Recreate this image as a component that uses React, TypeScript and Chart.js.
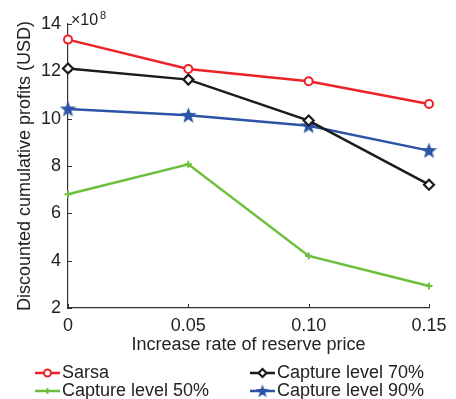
import React, { useEffect, useRef } from "react";
import { Chart, registerables } from "chart.js";
import { drawPoint } from "chart.js/helpers";

Chart.register(...registerables);

const rates = [0, 0.05, 0.1, 0.15];
const xTickLabels = ["0", "0.05", "0.10", "0.15"];
const sarsa = [13.34, 12.1, 11.58, 10.62];
const capture70 = [12.12, 11.65, 9.92, 7.21];
const capture50 = [6.81, 8.07, 4.2, 2.93];
const capture90 = [10.41, 10.14, 9.7, 8.65];
const seriesNames = ["Sarsa", "Capture level 70%", "Capture level 50%", "Capture level 90%"];

const RED = "#ec2227";
const BLACK = "#1b1b1b";
const GREEN = "#6cbf3c";
const BLUE = "#2b54a6";
const FONT = "'Liberation Sans', Arial, sans-serif";

function makeStar(color: string, size: number): HTMLCanvasElement {
  const c = document.createElement("canvas");
  c.width = size;
  c.height = size;
  const ctx = c.getContext("2d")!;
  const cx = size / 2;
  const cy = size / 2 + 0.5;
  const outer = size / 2;
  const inner = outer * 0.42;
  ctx.beginPath();
  for (let i = 0; i < 10; i++) {
    const r = i % 2 === 0 ? outer : inner;
    const a = -Math.PI / 2 + (i * Math.PI) / 5;
    const px = cx + r * Math.cos(a);
    const py = cy + r * Math.sin(a);
    if (i === 0) ctx.moveTo(px, py);
    else ctx.lineTo(px, py);
  }
  ctx.closePath();
  ctx.fillStyle = color;
  ctx.fill();
  return c;
}

export default function App() {
  const ref = useRef<HTMLCanvasElement | null>(null);

  useEffect(() => {
    document.body.style.margin = "0";
    const canvas = ref.current!;
    const star = makeStar(BLUE, 17);
    const smallStar = makeStar(BLUE, 14);
    const toPts = (vals: number[]) => rates.map((r, i) => ({ x: r, y: vals[i] }));

    const datasets: any[] = [
      {
        label: seriesNames[0],
        data: toPts(sarsa),
        borderColor: RED,
        backgroundColor: "#ffffff",
        pointBorderColor: RED,
        pointBackgroundColor: "#ffffff",
        pointStyle: "circle",
        pointRadius: 4,
        pointBorderWidth: 2,
        borderWidth: 2.5,
        clip: false,
        legendRadius: 3.5,
      },
      {
        label: seriesNames[1],
        data: toPts(capture70),
        borderColor: BLACK,
        pointBorderColor: BLACK,
        pointBackgroundColor: "#ffffff",
        pointStyle: "rectRot",
        pointRadius: 5,
        pointBorderWidth: 2.2,
        borderWidth: 2.5,
        clip: false,
        legendRadius: 4,
      },
      {
        label: seriesNames[2],
        data: toPts(capture50),
        borderColor: GREEN,
        pointBorderColor: GREEN,
        pointBackgroundColor: GREEN,
        pointStyle: "cross",
        pointRadius: 3.5,
        pointBorderWidth: 2,
        borderWidth: 2.5,
        clip: false,
        legendRadius: 3,
      },
      {
        label: seriesNames[3],
        data: toPts(capture90),
        borderColor: BLUE,
        pointBorderColor: BLUE,
        pointBackgroundColor: BLUE,
        pointStyle: star,
        pointRadius: 8,
        pointBorderWidth: 1,
        borderWidth: 2.5,
        clip: false,
        legendStyle: smallStar,
        legendRadius: 7,
      },
    ];

    const extras = {
      id: "extras",
      afterDraw(chart: any) {
        const ctx = chart.ctx as CanvasRenderingContext2D;
        const xs = chart.scales.x;
        const ys = chart.scales.y;
        const area = chart.chartArea;
        ctx.save();
        // inward ticks
        ctx.strokeStyle = "#333333";
        ctx.lineWidth = 1;
        ctx.beginPath();
        rates.forEach((r) => {
          const px = Math.round(xs.getPixelForValue(r)) + 0.5;
          ctx.moveTo(px, area.bottom);
          ctx.lineTo(px, area.bottom - 4);
        });
        ys.ticks.forEach((t: any) => {
          const py = Math.round(ys.getPixelForValue(t.value)) + 0.5;
          ctx.moveTo(area.left, py);
          ctx.lineTo(area.left + 4, py);
        });
        ctx.stroke();

        // exponent label
        ctx.fillStyle = "#222222";
        ctx.textBaseline = "alphabetic";
        ctx.textAlign = "left";
        ctx.font = `16px ${FONT}`;
        ctx.fillText("×10", 71, 25);
        ctx.font = `11px ${FONT}`;
        ctx.fillText("8", 100, 19);

        // legend
        const items = [
          { ds: 0, x: 35, y: 373 },
          { ds: 1, x: 250, y: 373 },
          { ds: 2, x: 35, y: 391 },
          { ds: 3, x: 250, y: 391 },
        ];
        items.forEach((it) => {
          const d = chart.data.datasets[it.ds];
          ctx.strokeStyle = d.borderColor;
          ctx.lineWidth = 2.5;
          ctx.beginPath();
          ctx.moveTo(it.x, it.y);
          ctx.lineTo(it.x + 25, it.y);
          ctx.stroke();
          ctx.strokeStyle = d.pointBorderColor;
          ctx.fillStyle = d.pointBackgroundColor;
          ctx.lineWidth = d.pointBorderWidth;
          drawPoint(
            ctx,
            { pointStyle: d.legendStyle || d.pointStyle, radius: d.legendRadius, rotation: 0, borderWidth: d.pointBorderWidth } as any,
            it.x + 12.5,
            it.y
          );
          ctx.fillStyle = "#222222";
          ctx.font = `18px ${FONT}`;
          ctx.textBaseline = "middle";
          ctx.textAlign = "left";
          ctx.fillText(d.label, it.x + 27, it.y + 0.5);
        });
        ctx.restore();
      },
    };

    const chart = new Chart(canvas, {
      type: "line",
      data: { datasets },
      options: {
        animation: false,
        responsive: false,
        maintainAspectRatio: false,
        layout: { padding: { top: 24, right: 27, left: 0, bottom: 0 } },
        plugins: { legend: { display: false }, tooltip: { enabled: false } },
        elements: { line: { tension: 0 } },
        scales: {
          x: {
            type: "linear",
            min: 0,
            max: 0.15,
            afterFit: (s: any) => {
              s.height = 91;
            },
            afterBuildTicks: (s: any) => {
              s.ticks = rates.map((v) => ({ value: v }));
            },
            grid: { drawOnChartArea: false, drawTicks: false },
            border: { display: true, color: "#333333", width: 1.2 },
            ticks: {
              padding: 7,
              color: "#222222",
              font: { family: FONT, size: 18 },
              maxRotation: 0,
              autoSkip: false,
              callback: (_v: any, i: number) => xTickLabels[i],
            },
            title: {
              display: true,
              text: "Increase rate of reserve price",
              color: "#222222",
              font: { family: FONT, size: 18 },
              padding: { top: 0, bottom: 43 },
            },
          },
          y: {
            min: 2,
            max: 14,
            afterFit: (s: any) => {
              s.width = 68;
            },
            grid: { drawOnChartArea: false, drawTicks: false },
            border: { display: true, color: "#333333", width: 1.2 },
            ticks: {
              stepSize: 2,
              padding: 7,
              color: "#222222",
              font: { family: FONT, size: 18 },
            },
            title: {
              display: true,
              text: "Discounted cumulative profits (USD)",
              color: "#222222",
              font: { family: FONT, size: 18 },
              padding: { top: 14.5, bottom: 0 },
            },
          },
        },
      },
      plugins: [extras],
    } as any);

    return () => chart.destroy();
  }, []);

  return <canvas ref={ref} width={456} height={399} style={{ display: "block" }} />;
}
